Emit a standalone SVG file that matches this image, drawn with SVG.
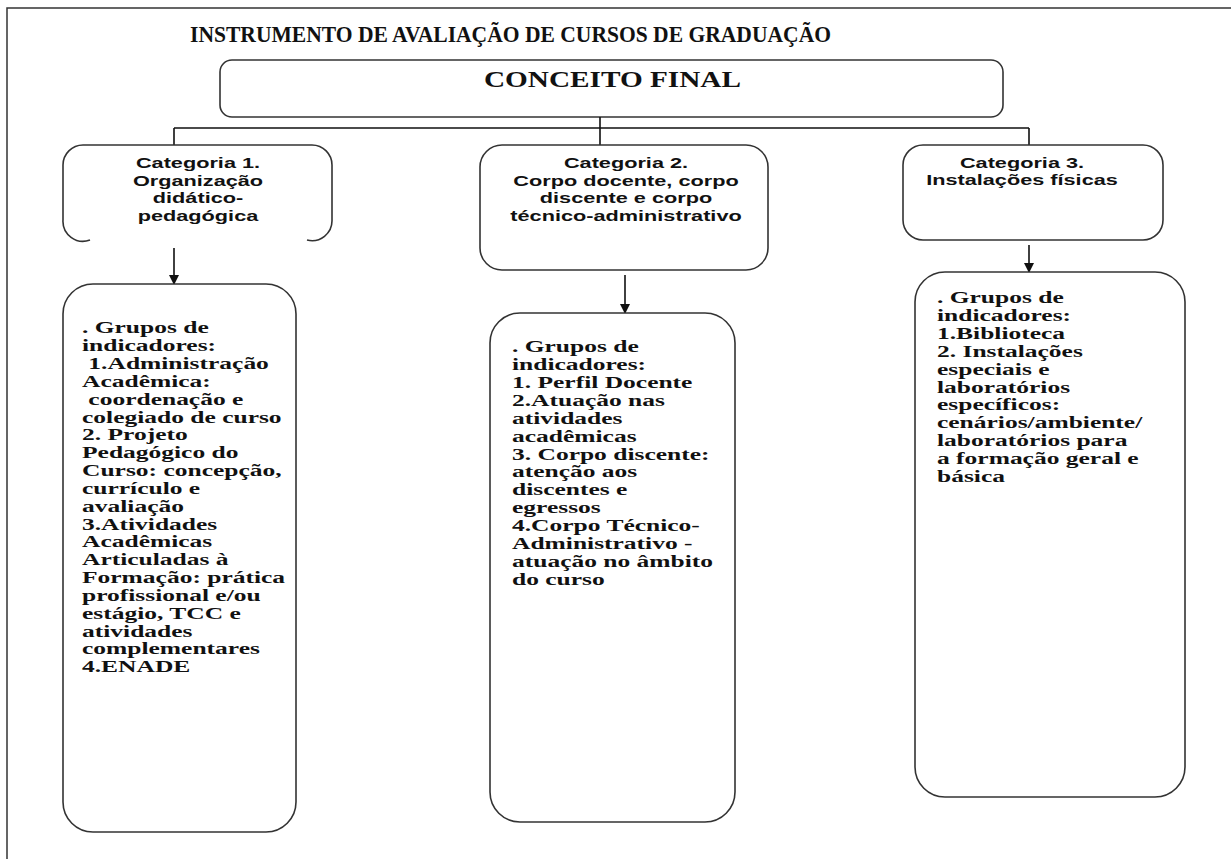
<svg xmlns="http://www.w3.org/2000/svg" width="1231" height="859" viewBox="0 0 1231 859">
  <style>
    .frame { fill: none; stroke: #333; stroke-width: 1.5; }
    .box { fill: #fff; stroke: #333; stroke-width: 1.6; }
    .open { fill: none; stroke: #333; stroke-width: 1.6; }
    .wire { fill: none; stroke: #111; stroke-width: 1.6; }
    .arrow { fill: none; stroke: #111; stroke-width: 1.6; marker-end: url(#head); }
    .title { font-family: "Liberation Serif", "Times New Roman", serif; font-weight: bold; font-size: 24px; fill: #111; }
    .cat { font-family: "Liberation Sans", Arial, sans-serif; font-weight: bold; font-size: 14px; fill: #111; text-anchor: middle; }
    .body { font-family: "Liberation Serif", "Times New Roman", serif; font-weight: bold; font-size: 17px; fill: #111; white-space: pre; }
  </style>
  <defs>
    <marker id="head" markerWidth="10" markerHeight="10" refX="9" refY="5" orient="auto" markerUnits="userSpaceOnUse">
      <path d="M0,0 L10,5 L0,10 Z" fill="#111"/>
    </marker>
  </defs>

  <rect width="1231" height="859" fill="#fff"/>
  <!-- page frame: top and left edges -->
  <path class="frame" d="M7,859 L7,8 L1231,8"/>

  <g id="title">
    <text class="title" x="190" y="42" textLength="641" lengthAdjust="spacingAndGlyphs">INSTRUMENTO DE AVALIAÇÃO DE CURSOS DE GRADUAÇÃO</text>
  </g>

  <g id="conceito-final">
    <rect class="box" x="220" y="60" width="783" height="57" rx="12"/>
    <text class="title" x="484" y="87" font-size="23" textLength="257" lengthAdjust="spacingAndGlyphs">CONCEITO FINAL</text>
  </g>

  <g id="connectors">
    <path class="wire" d="M600,117 L600,128 M174,128 L1029,128 M174,128 L174,145 M600,128 L600,145 M1029,128 L1029,145"/>
    <path class="arrow" d="M174,248 L174,284"/>
    <path class="arrow" d="M625,275 L625,313"/>
    <path class="arrow" d="M1029,245 L1029,272"/>
  </g>

  <g id="categoria-1">
    <path class="open" d="M90,240 A20,20 0 0 1 63,220 L63,165 A20,20 0 0 1 83,145 L312,145 A20,20 0 0 1 332,165 L332,220 A20,20 0 0 1 307,240"/>
    <g transform="translate(198,0) scale(1.55,1)">
      <text class="cat" x="0" y="168">Categoria 1.</text>
      <text class="cat" x="0" y="186">Organização</text>
      <text class="cat" x="0" y="203">didático-</text>
      <text class="cat" x="0" y="221">pedagógica</text>
    </g>
  </g>

  <g id="categoria-2">
    <rect class="box" x="480" y="145" width="288" height="125" rx="22"/>
    <g transform="translate(626,0) scale(1.55,1)">
      <text class="cat" x="0" y="168">Categoria 2.</text>
      <text class="cat" x="0" y="186">Corpo docente, corpo</text>
      <text class="cat" x="0" y="203">discente e corpo</text>
      <text class="cat" x="0" y="221">técnico-administrativo</text>
    </g>
  </g>

  <g id="categoria-3">
    <rect class="box" x="903" y="145" width="260" height="95" rx="20"/>
    <g transform="translate(1022,0) scale(1.55,1)">
      <text class="cat" x="0" y="168">Categoria 3.</text>
      <text class="cat" x="0" y="185">Instalações físicas</text>
    </g>
  </g>

  <g id="indicadores-1">
    <rect class="box" x="63" y="284" width="233" height="548" rx="30"/>
    <g transform="translate(82,0) scale(1.5,1)">
      <text class="body" x="0" y="333">. Grupos de</text>
      <text class="body" x="0" y="351">indicadores:</text>
      <text class="body" x="0" y="369" xml:space="preserve"> 1.Administração</text>
      <text class="body" x="0" y="387">Acadêmica:</text>
      <text class="body" x="0" y="405" xml:space="preserve"> coordenação e</text>
      <text class="body" x="0" y="423">colegiado de curso</text>
      <text class="body" x="0" y="440">2. Projeto</text>
      <text class="body" x="0" y="458">Pedagógico do</text>
      <text class="body" x="0" y="476">Curso: concepção,</text>
      <text class="body" x="0" y="494">currículo e</text>
      <text class="body" x="0" y="512">avaliação</text>
      <text class="body" x="0" y="530">3.Atividades</text>
      <text class="body" x="0" y="547">Acadêmicas</text>
      <text class="body" x="0" y="565">Articuladas à</text>
      <text class="body" x="0" y="583">Formação: prática</text>
      <text class="body" x="0" y="601">profissional e/ou</text>
      <text class="body" x="0" y="619">estágio, TCC e</text>
      <text class="body" x="0" y="637">atividades</text>
      <text class="body" x="0" y="654">complementares</text>
      <text class="body" x="0" y="672">4.ENADE</text>
    </g>
  </g>

  <g id="indicadores-2">
    <rect class="box" x="490" y="313" width="245" height="509" rx="30"/>
    <g transform="translate(512,0) scale(1.5,1)">
      <text class="body" x="0" y="352">. Grupos de</text>
      <text class="body" x="0" y="370">indicadores:</text>
      <text class="body" x="0" y="388">1. Perfil Docente</text>
      <text class="body" x="0" y="406">2.Atuação nas</text>
      <text class="body" x="0" y="424">atividades</text>
      <text class="body" x="0" y="442">acadêmicas</text>
      <text class="body" x="0" y="460">3. Corpo discente:</text>
      <text class="body" x="0" y="477">atenção aos</text>
      <text class="body" x="0" y="495">discentes e</text>
      <text class="body" x="0" y="513">egressos</text>
      <text class="body" x="0" y="531">4.Corpo Técnico-</text>
      <text class="body" x="0" y="549">Administrativo -</text>
      <text class="body" x="0" y="567">atuação no âmbito</text>
      <text class="body" x="0" y="585">do curso</text>
    </g>
  </g>

  <g id="indicadores-3">
    <rect class="box" x="915" y="272" width="270" height="525" rx="30"/>
    <g transform="translate(937,0) scale(1.5,1)">
      <text class="body" x="0" y="303">. Grupos de</text>
      <text class="body" x="0" y="321">indicadores:</text>
      <text class="body" x="0" y="339">1.Biblioteca</text>
      <text class="body" x="0" y="357">2. Instalações</text>
      <text class="body" x="0" y="375">especiais e</text>
      <text class="body" x="0" y="393">laboratórios</text>
      <text class="body" x="0" y="410">específicos:</text>
      <text class="body" x="0" y="428">cenários/ambiente/</text>
      <text class="body" x="0" y="446">laboratórios para</text>
      <text class="body" x="0" y="464">a formação geral e</text>
      <text class="body" x="0" y="482">básica</text>
    </g>
  </g>
</svg>
